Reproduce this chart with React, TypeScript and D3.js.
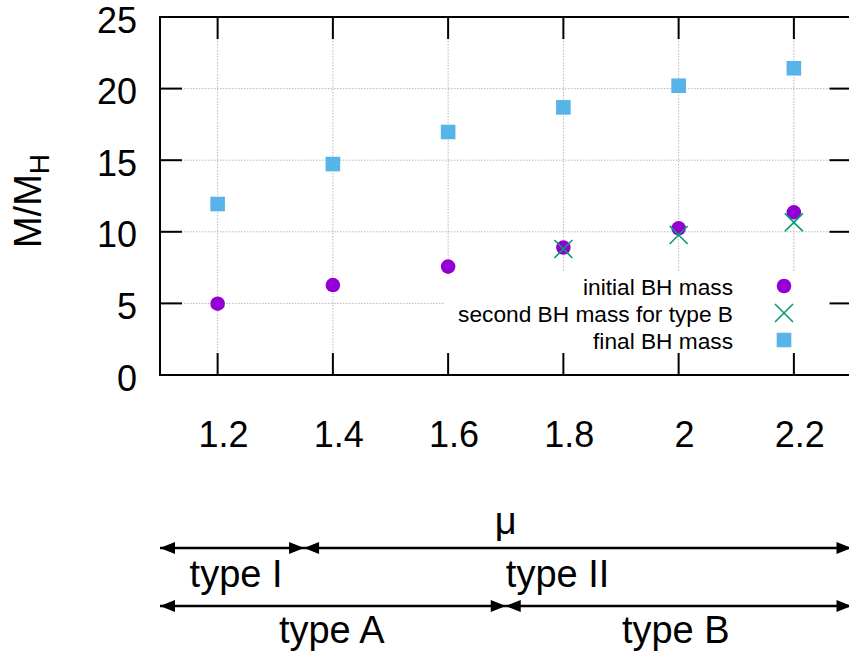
import React from "react";
import * as d3 from "d3";

const muValues = [1.2, 1.4, 1.6, 1.8, 2.0, 2.2];
const initialMass = [4.98, 6.28, 7.57, 8.9, 10.24, 11.36];
const secondMuValues = [1.8, 2.0, 2.2];
const secondMass = [8.8, 9.78, 10.66];
const finalMass = [11.94, 14.73, 16.97, 18.69, 20.2, 21.42];
const xTicks = [1.2, 1.4, 1.6, 1.8, 2.0, 2.2];
const yTicks = [0, 5, 10, 15, 20, 25];
const legendLabels = ["initial BH mass", "second BH mass for type B", "final BH mass"];
// type boundaries in mu
const typeIBoundary = 1.35;
const typeABoundary = 1.7;
const typeLabels1 = [
  { text: "type I", mu: 1.232 },
  { text: "type II", mu: 1.79 },
];
const typeLabels2 = [
  { text: "type A", mu: 1.398 },
  { text: "type B", mu: 1.995 },
];

const W = 849;
const H = 657;
const FONT = "'Liberation Sans', Arial, Helvetica, sans-serif";
const PURPLE = "#9400d3";
const GREEN = "#009e73";
const BLUE = "#56b4e9";

export default function App() {
  const x = d3.scaleLinear().domain([1.1, 2.3]).range([160, 851.5]);
  const y = d3.scaleLinear().domain([0, 25]).range([375, 17]);
  const [x0, x1] = x.range();
  const [yB, yT] = y.range();
  const tickLen = 22;
  const fmt = (v: number) => (Number.isInteger(v) ? String(v) : v.toFixed(1));

  const arrowY1 = 548;
  const arrowY2 = 606;
  const ah = 15;
  const hw = 6;
  const headRight = (tx: number, yy: number) =>
    `M${tx},${yy} L${tx - ah},${yy - hw} L${tx - ah},${yy + hw} Z`;
  const headLeft = (tx: number, yy: number) =>
    `M${tx},${yy} L${tx + ah},${yy - hw} L${tx + ah},${yy + hw} Z`;

  const doubleArrow = (a: number, b: number, yy: number, key: string) => (
    <g key={key}>
      <line x1={x(a)} x2={x(b)} y1={yy} y2={yy} stroke="#000" strokeWidth={2.5} />
      <path d={headLeft(x(a), yy)} fill="#000" />
      <path d={headRight(x(b), yy)} fill="#000" />
    </g>
  );

  const legendX = 733;
  const legendSymX = 784;
  const legendRows = [286, 313, 340];

  return (
    <svg
      width={W}
      height={H}
      style={{ position: "absolute", left: 0, top: 0, background: "#fff" }}
      fontFamily={FONT}
    >
      <rect x={0} y={0} width={W} height={H} fill="#fff" />
      {/* grid */}
      <g stroke="#b8b8b8" strokeWidth={1} strokeDasharray="1.5,1.5">
        {xTicks.map((t) => (
          <line key={"gx" + t} x1={x(t)} x2={x(t)} y1={yT} y2={yB} />
        ))}
        {yTicks.slice(1, -1).map((t) => (
          <line key={"gy" + t} x1={x0} x2={x1} y1={y(t)} y2={y(t)} />
        ))}
      </g>
      {/* legend background */}
      <rect x={444} y={272} width={x1 - 444} height={yB - 272} fill="#fff" />
      {/* ticks */}
      <g stroke="#000" strokeWidth={2}>
        {xTicks.map((t) => (
          <g key={"tx" + t}>
            <line x1={x(t)} x2={x(t)} y1={yB} y2={yB - tickLen} />
            <line x1={x(t)} x2={x(t)} y1={yT} y2={yT + tickLen} />
          </g>
        ))}
        {yTicks.map((t) => (
          <g key={"ty" + t}>
            <line x1={x0} x2={x0 + tickLen} y1={y(t)} y2={y(t)} />
            <line x1={x1} x2={x1 - tickLen} y1={y(t)} y2={y(t)} />
          </g>
        ))}
      </g>
      {/* frame */}
      <rect x={x0} y={yT} width={x1 - x0} height={yB - yT} fill="none" stroke="#000" strokeWidth={2} />
      {/* tick labels */}
      <g fontSize={36} fill="#000">
        {yTicks.map((t) => (
          <text key={"ly" + t} x={137} y={y(t) + 15.5} textAnchor="end">
            {fmt(t)}
          </text>
        ))}
        {xTicks.map((t) => (
          <text key={"lx" + t} x={x(t) + 6} y={447} textAnchor="middle">
            {fmt(t)}
          </text>
        ))}
      </g>
      {/* y label */}
      <text
        transform={`translate(41,${(yT + yB) / 2 + 5}) rotate(-90)`}
        textAnchor="middle"
        fontSize={38}
        fill="#000"
      >
        M/M
        <tspan fontSize={28} dy={8}>H</tspan>
      </text>
      {/* data */}
      {muValues.map((m, i) => (
        <circle key={"c" + i} cx={x(m)} cy={y(initialMass[i])} r={7.3} fill={PURPLE} />
      ))}
      {secondMuValues.map((m, i) => {
        const cx = x(m);
        const cy = y(secondMass[i]);
        const s = 9;
        return (
          <g key={"x" + i} stroke={GREEN} strokeWidth={1.6}>
            <line x1={cx - s} x2={cx + s} y1={cy - s} y2={cy + s} />
            <line x1={cx - s} x2={cx + s} y1={cy + s} y2={cy - s} />
          </g>
        );
      })}
      {muValues.map((m, i) => (
        <rect
          key={"s" + i}
          x={x(m) - 7.3}
          y={y(finalMass[i]) - 7.3}
          width={14.6}
          height={14.6}
          fill={BLUE}
        />
      ))}
      {/* legend */}
      <g fontSize={22.7} fill="#000">
        {legendLabels.map((l, i) => (
          <text key={"lg" + i} x={legendX} y={legendRows[i] + 8.5} textAnchor="end">
            {l}
          </text>
        ))}
      </g>
      <circle cx={legendSymX} cy={legendRows[0]} r={7.3} fill={PURPLE} />
      <g stroke={GREEN} strokeWidth={1.6}>
        <line x1={legendSymX - 9} x2={legendSymX + 9} y1={legendRows[1] - 9} y2={legendRows[1] + 9} />
        <line x1={legendSymX - 9} x2={legendSymX + 9} y1={legendRows[1] + 9} y2={legendRows[1] - 9} />
      </g>
      <rect x={legendSymX - 7.3} y={legendRows[2] - 7.3} width={14.6} height={14.6} fill={BLUE} />
      {/* x label & type arrows */}
      <text x={(x0 + x1) / 2} y={534} textAnchor="middle" fontSize={38} fill="#000">
        μ
      </text>
      {doubleArrow(1.1, typeIBoundary, arrowY1, "a1")}
      {doubleArrow(typeIBoundary, 2.3, arrowY1, "a2")}
      {doubleArrow(1.1, typeABoundary, arrowY2, "a3")}
      {doubleArrow(typeABoundary, 2.3, arrowY2, "a4")}
      <g fontSize={38} fill="#000" textAnchor="middle">
        {typeLabels1.map((l) => (
          <text key={l.text} x={x(l.mu)} y={587}>
            {l.text}
          </text>
        ))}
        {typeLabels2.map((l) => (
          <text key={l.text} x={x(l.mu)} y={643}>
            {l.text}
          </text>
        ))}
      </g>
    </svg>
  );
}
